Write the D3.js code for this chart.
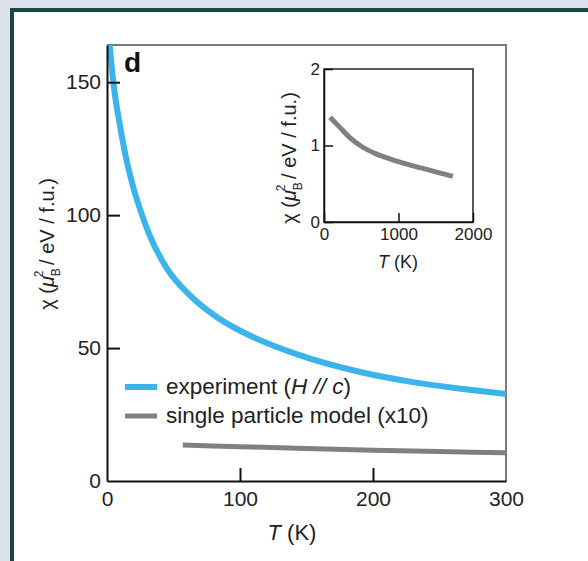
<!DOCTYPE html>
<html>
<head>
<meta charset="utf-8">
<script src="https://cdn.jsdelivr.net/npm/d3@7"></script>
<style>
  html, body { margin: 0; padding: 0; background: #dde3ec; }
  svg { display: block; font-family: "Liberation Sans", Arial, sans-serif; }
</style>
</head>
<body>
<svg id="chart" width="588" height="561"></svg>
<script>
// experiment, T (K) vs chi
const expT   = [2, 5, 10, 15, 20, 25, 32, 45, 62, 83, 107, 143, 192, 230, 268, 300];
const expChi = [164, 149, 133, 120, 110, 102, 92.5, 80, 70, 61.5, 54.8, 47.6, 40.8, 37.2, 34.6, 32.7];

// single particle model (x10)
const spmT   = [57, 100, 150, 200, 250, 300];
const spmChi = [13.5, 12.9, 12.2, 11.6, 11.1, 10.6];

// inset: single particle model, wide range
const insetT   = [80, 200, 350, 500, 700, 900, 1100, 1300, 1500, 1730];
const insetChi = [1.37, 1.25, 1.1, 0.99, 0.89, 0.82, 0.76, 0.707, 0.655, 0.598];

const xTicks = [0, 100, 200, 300];
const yTicks = [0, 50, 100, 150];
const insetXTicks = [0, 1000, 2000];
const insetYTicks = [0, 1, 2];

const legendLabels = ['experiment', 'single particle model (x10)'];

(function() {
  'use strict';

  const svg = d3.select('#chart'),
        BLUE = '#3ab4ea',
        GRAY = '#808080';

  // frame panel
  svg.append('rect')
    .attr('x', 12).attr('y', 10)
    .attr('width', 600).attr('height', 600)
    .attr('fill', '#fff')
    .attr('stroke', '#1d4547')
    .attr('stroke-width', 4);

  // ---- main plot
  const x = d3.scaleLinear().domain([0, 300]).range([107, 506]),
        y = d3.scaleLinear().domain([0, 164]).range([481, 45]);

  svg.append('clipPath').attr('id', 'clip')
    .append('rect')
    .attr('x', x(0)).attr('y', y(164))
    .attr('width', x(300) - x(0)).attr('height', y(0) - y(164));

  const line = d3.line()
    .x(d => x(d[0]))
    .y(d => y(d[1]))
    .curve(d3.curveMonotoneX);

  // top + right frame (gray)
  svg.append('path')
    .attr('d', `M${x(0)},${y(164)}H${x(300)}V${y(0)}`)
    .attr('fill', 'none')
    .attr('stroke', '#7a7a7a')
    .attr('stroke-width', 2);

  const plot = svg.append('g').attr('clip-path', 'url(#clip)');

  plot.append('path')
    .datum(spmT.map((t, i) => [t, spmChi[i]]))
    .attr('d', line)
    .attr('fill', 'none')
    .attr('stroke', GRAY)
    .attr('stroke-width', 5);

  plot.append('path')
    .datum(expT.map((t, i) => [t, expChi[i]]))
    .attr('d', line)
    .attr('fill', 'none')
    .attr('stroke', BLUE)
    .attr('stroke-width', 6);

  // axes: inner ticks
  const xAxis = svg.append('g')
    .attr('transform', `translate(0,${y(0)})`)
    .call(d3.axisBottom(x).tickValues(xTicks).tickSizeInner(-13).tickSizeOuter(0).tickPadding(10));
  const yAxis = svg.append('g')
    .attr('transform', `translate(${x(0)},0)`)
    .call(d3.axisLeft(y).tickValues(yTicks).tickSizeInner(-13).tickSizeOuter(0).tickPadding(6));

  [xAxis, yAxis].forEach(a => {
    a.select('.domain').attr('stroke', '#111').attr('stroke-width', 2);
    a.selectAll('.tick line').attr('stroke', '#111').attr('stroke-width', 2);
    a.selectAll('.tick text')
      .attr('font-size', 21)
      .attr('font-family', '"Liberation Sans", Arial, sans-serif')
      .attr('fill', '#222');
  });
  xAxis.selectAll('.tick line').filter(d => d === 0 || d === 300).remove();
  yAxis.selectAll('.tick line').filter(d => d === 0).remove();

  // axis titles
  const xt = svg.append('text')
    .attr('x', 292).attr('y', 540)
    .attr('text-anchor', 'middle')
    .attr('font-size', 22)
    .attr('fill', '#222');
  xt.append('tspan').attr('font-style', 'italic').text('T');
  xt.append('tspan').text(' (K)');

  const yTitle = (g, fs) => {
    const t = g.append('text')
      .attr('text-anchor', 'middle')
      .attr('font-size', fs)
      .attr('fill', '#222');
    t.append('tspan').text('χ (');
    t.append('tspan').attr('font-style', 'italic').text('μ');
    t.append('tspan').attr('font-size', fs * 0.6).attr('dy', fs * 0.3).text('B');
    t.append('tspan').attr('font-size', fs * 0.6).attr('dx', -fs * 0.45).attr('dy', -fs * 0.85).text('2');
    t.append('tspan').attr('dy', fs * 0.55).text(' / eV / f.u.)');
    return t;
  };

  yTitle(svg.append('g').attr('transform', 'translate(54,244) rotate(-90)'), 20);

  // panel letter
  svg.append('text')
    .attr('x', 124).attr('y', 72)
    .attr('font-size', 28)
    .attr('font-weight', 'bold')
    .attr('fill', '#111')
    .text('d');

  // legend
  const legend = svg.append('g');
  [BLUE, GRAY].forEach((c, i) => {
    const ly = 387 + i * 29;
    legend.append('line')
      .attr('x1', 125).attr('x2', 157)
      .attr('y1', ly).attr('y2', ly)
      .attr('stroke', c)
      .attr('stroke-width', i ? 5 : 6);
    const t = legend.append('text')
      .attr('x', 166).attr('y', ly + 7)
      .attr('font-size', 22.5)
      .attr('fill', '#222')
      .text(legendLabels[i]);
    if (i === 0) {
      t.append('tspan').text(' (');
      t.append('tspan').attr('font-style', 'italic').text('H // c');
      t.append('tspan').text(')');
    }
  });

  // ---- inset
  const ix = d3.scaleLinear().domain([0, 2000]).range([324, 473]),
        iy = d3.scaleLinear().domain([0, 2]).range([222, 69]);

  svg.append('rect')
    .attr('x', ix(0)).attr('y', iy(2))
    .attr('width', ix(2000) - ix(0)).attr('height', iy(0) - iy(2))
    .attr('fill', '#fff')
    .attr('stroke', '#222')
    .attr('stroke-width', 1.5);

  svg.append('path')
    .datum(insetT.map((t, i) => [t, insetChi[i]]))
    .attr('d', d3.line().x(d => ix(d[0])).y(d => iy(d[1])).curve(d3.curveMonotoneX))
    .attr('fill', 'none')
    .attr('stroke', GRAY)
    .attr('stroke-width', 5);

  const ixAxis = svg.append('g')
    .attr('transform', `translate(0,${iy(0)})`)
    .call(d3.axisBottom(ix).tickValues(insetXTicks).tickFormat(d3.format('d')).tickSizeInner(-9).tickSizeOuter(0).tickPadding(6));
  const iyAxis = svg.append('g')
    .attr('transform', `translate(${ix(0)},0)`)
    .call(d3.axisLeft(iy).tickValues(insetYTicks).tickFormat(d3.format('d')).tickSizeInner(-9).tickSizeOuter(0).tickPadding(4));

  [ixAxis, iyAxis].forEach(a => {
    a.select('.domain').attr('stroke', '#111').attr('stroke-width', 1.5);
    a.selectAll('.tick line').attr('stroke', '#111').attr('stroke-width', 1.5);
    a.selectAll('.tick text')
      .attr('font-size', 17)
      .attr('font-family', '"Liberation Sans", Arial, sans-serif')
      .attr('fill', '#222');
  });

  const ixt = svg.append('text')
    .attr('x', 398).attr('y', 268)
    .attr('text-anchor', 'middle')
    .attr('font-size', 18)
    .attr('fill', '#222');
  ixt.append('tspan').attr('font-style', 'italic').text('T');
  ixt.append('tspan').text(' (K)');

  yTitle(svg.append('g').attr('transform', 'translate(296,158) rotate(-90)'), 20);
})();
</script>
</body>
</html>
